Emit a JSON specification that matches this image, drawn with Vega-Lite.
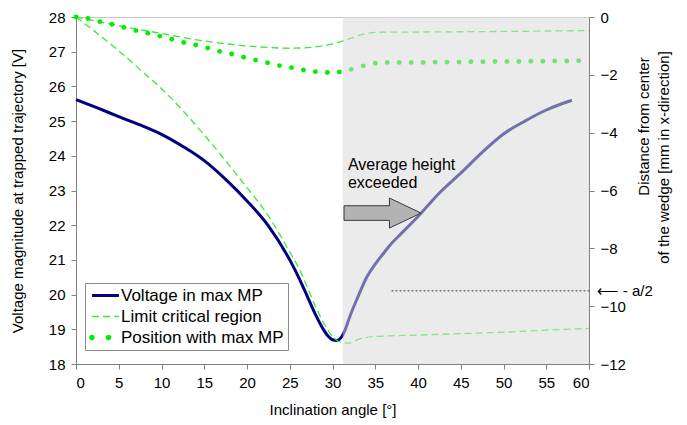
{
  "$schema": "https://vega.github.io/schema/vega-lite/v6.json",
  "autosize": {"type": "none"},
  "width": 513,
  "height": 347,
  "padding": {"left": 76, "top": 17, "right": 98, "bottom": 61},
  "background": "white",
  "view": {"stroke": "#c8c8c8", "strokeWidth": 1},
  "config": {
    "font": "Liberation Sans",
    "axis": {
      "grid": false,
      "domainColor": "#808080",
      "tickColor": "#808080",
      "tickSize": 5,
      "labelColor": "black",
      "labelFontSize": 15,
      "labelFont": "Liberation Sans",
      "titleFont": "Liberation Sans",
      "titleFontSize": 15,
      "titleFontWeight": "normal",
      "titleColor": "black",
      "zindex": 1
    }
  },
  "datasets": {
    "voltage": [
      {"x": 0, "v": 25.62}, {"x": 2.5, "v": 25.38}, {"x": 5, "v": 25.13}, {"x": 7.5, "v": 24.89},
      {"x": 10, "v": 24.62}, {"x": 12.5, "v": 24.27}, {"x": 15, "v": 23.86}, {"x": 17.5, "v": 23.32},
      {"x": 20, "v": 22.7}, {"x": 22.5, "v": 21.98}, {"x": 25, "v": 21.0}, {"x": 26, "v": 20.52},
      {"x": 27, "v": 19.98}, {"x": 28, "v": 19.43}, {"x": 29, "v": 18.97}, {"x": 29.5, "v": 18.8},
      {"x": 30, "v": 18.7}, {"x": 30.5, "v": 18.68}, {"x": 31, "v": 18.76}, {"x": 31.5, "v": 19.0},
      {"x": 32, "v": 19.35}, {"x": 33, "v": 19.95}, {"x": 34, "v": 20.5}, {"x": 35, "v": 20.88},
      {"x": 36, "v": 21.2}, {"x": 37, "v": 21.5}, {"x": 38, "v": 21.75}, {"x": 40, "v": 22.25},
      {"x": 42.5, "v": 22.93}, {"x": 45, "v": 23.5}, {"x": 47.5, "v": 24.1}, {"x": 50, "v": 24.63},
      {"x": 52.5, "v": 25.0}, {"x": 55, "v": 25.32}, {"x": 58, "v": 25.6}
    ],
    "limits": [
      {"part": "upper", "x": 0, "d": 0}, {"part": "upper", "x": 5, "d": -0.3}, {"part": "upper", "x": 10, "d": -0.57},
      {"part": "upper", "x": 15, "d": -0.83}, {"part": "upper", "x": 20, "d": -1.0}, {"part": "upper", "x": 25, "d": -1.08},
      {"part": "upper", "x": 27.5, "d": -1.05}, {"part": "upper", "x": 30, "d": -0.93}, {"part": "upper", "x": 32, "d": -0.75},
      {"part": "upper", "x": 33.5, "d": -0.6}, {"part": "upper", "x": 35, "d": -0.53}, {"part": "upper", "x": 40, "d": -0.52},
      {"part": "upper", "x": 50, "d": -0.5}, {"part": "upper", "x": 60, "d": -0.47},
      {"part": "lower", "x": 0, "d": 0}, {"part": "lower", "x": 2.5, "d": -0.57}, {"part": "lower", "x": 5, "d": -1.17},
      {"part": "lower", "x": 7.5, "d": -1.82}, {"part": "lower", "x": 10, "d": -2.48}, {"part": "lower", "x": 12.5, "d": -3.24},
      {"part": "lower", "x": 15, "d": -4.08}, {"part": "lower", "x": 17.5, "d": -4.97}, {"part": "lower", "x": 20, "d": -5.9},
      {"part": "lower", "x": 22.5, "d": -6.88}, {"part": "lower", "x": 25, "d": -8.13}, {"part": "lower", "x": 26, "d": -8.65},
      {"part": "lower", "x": 27, "d": -9.3}, {"part": "lower", "x": 28, "d": -10.0}, {"part": "lower", "x": 29, "d": -10.6},
      {"part": "lower", "x": 30, "d": -11.05}, {"part": "lower", "x": 31, "d": -11.25}, {"part": "lower", "x": 32, "d": -11.28},
      {"part": "lower", "x": 33, "d": -11.15}, {"part": "lower", "x": 35, "d": -11.05}, {"part": "lower", "x": 40, "d": -11.0},
      {"part": "lower", "x": 45, "d": -10.95}, {"part": "lower", "x": 50, "d": -10.9}, {"part": "lower", "x": 55, "d": -10.83},
      {"part": "lower", "x": 60, "d": -10.77}
    ],
    "positions": [
      {"x": 0, "d": 0}, {"x": 1.4, "d": -0.05}, {"x": 2.8, "d": -0.16}, {"x": 4.2, "d": -0.25},
      {"x": 5.6, "d": -0.36}, {"x": 7.0, "d": -0.47}, {"x": 8.4, "d": -0.56}, {"x": 9.8, "d": -0.66},
      {"x": 11.2, "d": -0.77}, {"x": 12.6, "d": -0.88}, {"x": 14.0, "d": -0.97}, {"x": 15.4, "d": -1.07},
      {"x": 16.8, "d": -1.19}, {"x": 18.2, "d": -1.28}, {"x": 19.6, "d": -1.39}, {"x": 21.0, "d": -1.49},
      {"x": 22.4, "d": -1.58}, {"x": 23.8, "d": -1.68}, {"x": 25.2, "d": -1.75}, {"x": 26.6, "d": -1.83},
      {"x": 28.0, "d": -1.89}, {"x": 29.4, "d": -1.92}, {"x": 30.8, "d": -1.9}, {"x": 32.2, "d": -1.81},
      {"x": 33.6, "d": -1.69}, {"x": 35.0, "d": -1.6}, {"x": 36.4, "d": -1.57}, {"x": 37.8, "d": -1.57},
      {"x": 39.2, "d": -1.57}, {"x": 40.6, "d": -1.57}, {"x": 42.0, "d": -1.56}, {"x": 43.4, "d": -1.56},
      {"x": 44.8, "d": -1.56}, {"x": 46.2, "d": -1.55}, {"x": 47.6, "d": -1.55}, {"x": 49.0, "d": -1.54},
      {"x": 50.4, "d": -1.54}, {"x": 51.8, "d": -1.54}, {"x": 53.2, "d": -1.53}, {"x": 54.6, "d": -1.53},
      {"x": 56.0, "d": -1.52}, {"x": 57.4, "d": -1.52}, {"x": 58.8, "d": -1.51}
    ]
  },
  "layer": [
    {
      "data": {"name": "voltage"},
      "transform": [{"calculate": "'Voltage in max MP'", "as": "series"}],
      "mark": {"type": "line", "strokeWidth": 3, "interpolate": "monotone"},
      "encoding": {
        "x": {"field": "x", "type": "quantitative", "scale": {"domain": [0, 60], "nice": false},
          "axis": {"title": "Inclination angle [°]", "values": [0, 5, 10, 15, 20, 25, 30, 35, 40, 45, 50, 55, 60], "labelPadding": 6, "titlePadding": 12}},
        "y": {"field": "v", "type": "quantitative", "scale": {"domain": [18, 28], "nice": false, "zero": false},
          "axis": {"title": "Voltage magnitude at trapped trajectory [V]", "orient": "left", "values": [18, 19, 20, 21, 22, 23, 24, 25, 26, 27, 28], "labelPadding": 6, "titlePadding": 23}},
        "color": {"field": "series", "type": "nominal",
          "scale": {"domain": ["Voltage in max MP", "Limit critical region", "Position with max MP"], "range": ["#000080", "#33ee33", "#00ee00"]},
          "legend": {
            "orient": "none", "legendX": 9, "legendY": 266, "title": null,
            "fillColor": "white", "strokeColor": "#8c8c8c", "padding": 4,
            "labelFont": "Liberation Sans", "labelFontSize": 17, "labelColor": "black", "labelOffset": 15, "labelLimit": 300,
            "symbolSize": 1089, "rowPadding": 3, "symbolStrokeWidth": 1.5,
            "encode": {
              "symbols": {
                "update": {
                  "size": {"value": 1089},
                  "shape": {"signal": "datum.value === 'Position with max MP' ? 'M -0.51 0 A 0.17 0.17 0 1 0 -0.17 0 A 0.17 0.17 0 1 0 -0.51 0 Z M 0.5 0 A 0.17 0.17 0 1 0 0.84 0 A 0.17 0.17 0 1 0 0.5 0 Z' : 'M -0.33 0 L 1.3 0'"},
                  "strokeDash": {"signal": "datum.value === 'Limit critical region' ? [7, 4] : [1, 0]"},
                  "strokeWidth": {"signal": "datum.value === 'Voltage in max MP' ? 3 : (datum.value === 'Limit critical region' ? 1.3 : 0)"},
                  "stroke": {"signal": "datum.value === 'Voltage in max MP' ? '#000080' : (datum.value === 'Limit critical region' ? '#33ee33' : 'transparent')"},
                  "fill": {"signal": "datum.value === 'Position with max MP' ? '#00ee00' : 'transparent'"},
                  "opacity": {"value": 1}
                }
              }
            }
          }
        }
      }
    },
    {
      "layer": [
        {
          "data": {"name": "limits"},
          "transform": [{"calculate": "'Limit critical region'", "as": "series"}],
          "mark": {"type": "line", "strokeWidth": 1.3, "strokeDash": [7, 4], "interpolate": "monotone"},
          "encoding": {
            "x": {"field": "x", "type": "quantitative"},
            "y": {"field": "d", "type": "quantitative", "scale": {"domain": [-12, 0], "nice": false, "zero": false},
              "axis": {"orient": "right", "title": "Distance from center", "values": [-12, -10, -8, -6, -4, -2, 0], "labelPadding": 6,
                "titleAngle": 270, "titleAlign": "center", "titleBaseline": "middle", "titleX": 54, "titleY": 109}},
            "detail": {"field": "part"},
            "color": {"field": "series", "type": "nominal"}
          }
        },
        {
          "data": {"name": "positions"},
          "transform": [{"calculate": "'Position with max MP'", "as": "series"}],
          "mark": {"type": "point", "filled": true, "size": 24, "opacity": 1},
          "encoding": {
            "x": {"field": "x", "type": "quantitative"},
            "y": {"field": "d", "type": "quantitative"},
            "color": {"field": "series", "type": "nominal"}
          }
        }
      ]
    },
    {
      "data": {"values": [{"x": 31.2, "x2": 60}]},
      "mark": {"type": "rect", "fill": "#d9d9d9", "opacity": 0.52},
      "encoding": {
        "x": {"field": "x", "type": "quantitative"},
        "x2": {"field": "x2"}
      }
    },
    {
      "data": {"values": [{"x": 35.85, "v": 22.35}]},
      "mark": {"type": "point", "filled": true, "shape": "M -1 -0.19 L 0.18 -0.19 L 0.18 -0.39 L 1 0 L 0.18 0.39 L 0.18 0.19 L -1 0.19 Z", "size": 5929, "fill": "#b3b3b3", "stroke": "#3a3a3a", "strokeWidth": 1, "opacity": 1},
      "encoding": {
        "x": {"field": "x", "type": "quantitative"},
        "y": {"field": "v", "type": "quantitative", "scale": {"domain": [18, 28], "nice": false, "zero": false}, "axis": null}
      }
    },
    {
      "data": {"values": [{"x": 31.81, "v": 23.59}]},
      "mark": {"type": "text", "align": "left", "baseline": "alphabetic", "font": "Liberation Sans", "fontSize": 16, "lineHeight": 17.5, "color": "black"},
      "encoding": {
        "x": {"field": "x", "type": "quantitative"},
        "y": {"field": "v", "type": "quantitative", "scale": {"domain": [18, 28], "nice": false, "zero": false}, "axis": null},
        "text": {"value": ["Average height", "exceeded"]}
      }
    },
    {
      "layer": [
        {
          "data": {"values": [{"x": 36.9, "x2": 60, "d": -9.47}]},
          "mark": {"type": "rule", "strokeDash": [2, 2], "color": "#444444", "strokeWidth": 1},
          "encoding": {
            "x": {"field": "x", "type": "quantitative"},
            "x2": {"field": "x2"},
            "y": {"field": "d", "type": "quantitative", "scale": {"domain": [-12, 0], "nice": false, "zero": false},
              "axis": {"orient": "right", "title": "of the wedge [mm in x-direction]", "labels": false, "ticks": false, "domain": false,
                "titleAngle": 270, "titleAlign": "center", "titleBaseline": "middle", "titleX": 74, "titleY": 140}}
          }
        },
        {
          "data": {"values": [{"x": 60.9, "d": -9.47, "label": "⟵ - a/2"}]},
          "mark": {"type": "text", "align": "left", "baseline": "middle", "font": "Liberation Sans", "fontSize": 15, "color": "black"},
          "encoding": {
            "x": {"field": "x", "type": "quantitative"},
            "y": {"field": "d", "type": "quantitative"},
            "text": {"field": "label"}
          }
        }
      ]
    }
  ],
  "resolve": {"scale": {"y": "independent"}}
}
